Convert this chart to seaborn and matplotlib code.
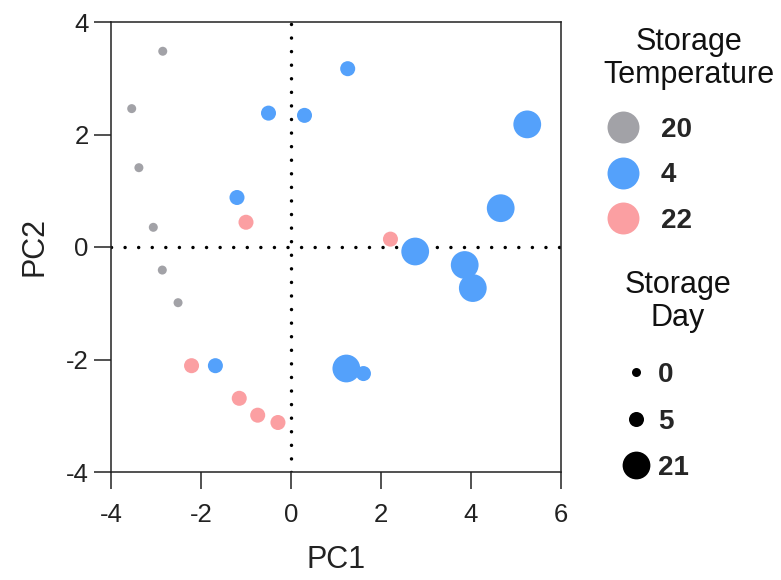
import numpy as np
import pandas as pd
import seaborn as sns
import matplotlib.pyplot as plt
from matplotlib.lines import Line2D

# PCA scores by storage temperature and storage day
pc1_t20 = [-2.85, -3.54, -3.38, -3.06, -2.86, -2.51]
pc2_t20 = [3.48, 2.46, 1.41, 0.35, -0.41, -0.99]
day_t20 = [0, 0, 0, 0, 0, 0]

pc1_t4 = [1.26, -0.50, 0.30, -1.20, 5.25, 4.66, 2.76, 3.86, 4.04, 1.23, 1.61, -1.68]
pc2_t4 = [3.17, 2.38, 2.34, 0.88, 2.18, 0.69, -0.08, -0.32, -0.73, -2.16, -2.25, -2.11]
day_t4 = [5, 5, 5, 5, 21, 21, 21, 21, 21, 21, 5, 5]

pc1_t22 = [-1.00, 2.21, -2.21, -1.15, -0.74, -0.29]
pc2_t22 = [0.44, 0.14, -2.11, -2.69, -2.99, -3.12]
day_t22 = [5, 5, 5, 5, 5, 5]

temp_labels = ["20", "4", "22"]
day_labels = [0, 5, 21]

temp_colors = {"20": "#a2a2a7", "4": "#54a1fb", "22": "#fb9fa2"}
day_sizes = {0: 42, 5: 117, 21: 400}

df = pd.concat([
    pd.DataFrame({"PC1": pc1_t20, "PC2": pc2_t20, "Temperature": "20", "Day": day_t20}),
    pd.DataFrame({"PC1": pc1_t4, "PC2": pc2_t4, "Temperature": "4", "Day": day_t4}),
    pd.DataFrame({"PC1": pc1_t22, "PC2": pc2_t22, "Temperature": "22", "Day": day_t22}),
], ignore_index=True)

sns.set_theme(style="ticks")
plt.rcParams["font.family"] = ["Liberation Sans", "DejaVu Sans"]
plt.rcParams["axes.unicode_minus"] = False

W, H = 781, 580
fig = plt.figure(figsize=(W / 100, H / 100), dpi=100)
ax = fig.add_axes([111 / W, 1 - 472 / H, 450 / W, 450 / H])

# dotted reference lines through the origin
dot_style = dict(color="black", lw=2.5, ls=(0, (0.01, 3.9)),
                 dash_capstyle="round", zorder=1)
ax.axhline(0, **dot_style)
ax.axvline(0, **dot_style)

sns.scatterplot(data=df, x="PC1", y="PC2", hue="Temperature", hue_order=temp_labels,
                palette=temp_colors, size="Day", sizes=day_sizes, linewidth=0,
                alpha=1, legend=False, ax=ax, zorder=3)

ax.set_xlim(-4, 6)
ax.set_ylim(-4, 4)
ax.set_xticks([-4, -2, 0, 2, 4, 6])
ax.set_yticks([-4, -2, 0, 2, 4])
ax.set_xlabel("PC1", fontsize=22, color="#222222", labelpad=13)
ax.set_ylabel("PC2", fontsize=22, color="#222222", labelpad=12)
ax.tick_params(axis="both", length=12, width=1.1, labelsize=18.5, colors="#222222")
ax.tick_params(axis="x", pad=10)
ax.tick_params(axis="y", pad=4)
for sp in ax.spines.values():
    sp.set_visible(True)
    sp.set_linewidth(1.1)
    sp.set_color("#222222")

title_kw = dict(ha="center", va="top", fontsize=22, color="#111111", linespacing=1.15)

# legend for temperature colours
fig.text(689 / W, 1 - 27 / H, "Storage\nTemperature", **title_kw)
temp_handles = [Line2D([], [], ls="none", marker="o", markersize=23,
                       markerfacecolor=temp_colors[t], markeredgewidth=0)
                for t in temp_labels]
fig.legend(temp_handles, temp_labels, loc="upper left",
           bbox_to_anchor=(605 / W, 1 - 117 / H), frameon=False,
           prop={"size": 20, "weight": "bold"}, labelspacing=0.7,
           handlelength=1.3, handletextpad=0.72, borderaxespad=0, borderpad=0)

# legend for storage day sizes
fig.text(678 / W, 1 - 270 / H, "Storage\nDay", **title_kw)
day_handles = [Line2D([], [], ls="none", marker="o", markersize=np.sqrt(day_sizes[d]),
                      markerfacecolor="black", markeredgewidth=0)
               for d in day_labels]
fig.legend(day_handles, [str(d) for d in day_labels], loc="upper left",
           bbox_to_anchor=(622 / W, 1 - 362 / H), frameon=False,
           prop={"size": 20, "weight": "bold"}, labelspacing=0.74,
           handlelength=1.0, handletextpad=0.3, borderaxespad=0, borderpad=0)

fig.savefig("out.png", dpi=100)
